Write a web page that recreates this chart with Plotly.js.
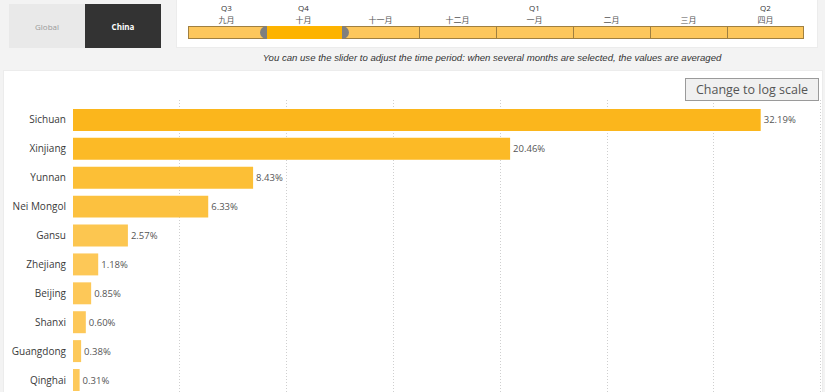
<!DOCTYPE html>
<html>
<head>
<meta charset="utf-8">
<script src="https://cdn.plot.ly/plotly-3.0.1.min.js"></script>
<style>
  html, body { margin:0; padding:0; width:825px; height:392px; overflow:hidden; background:#f3f3f3; font-family:"Open Sans","Noto Sans",sans-serif; }
  .abs { position:absolute; box-sizing:border-box; }
  #global { left:9px; top:4px; width:76px; height:44px; background:#e9e9e9; color:#9a9a9a; font-size:8px; display:flex; align-items:center; justify-content:center; }
  #china { left:85px; top:4px; width:76px; height:44px; background:#333333; color:#ffffff; font-size:8px; font-weight:bold; display:flex; align-items:center; justify-content:center; }
  #sliderPanel { left:176px; top:-2px; width:642px; height:50px; background:#ffffff; border:1px solid #ececec; }
  #track { left:188px; top:26px; width:616px; height:13px; background:#fdc75c; border:1px solid #a08040; }
  .seg { top:26px; height:13px; border-left:1px solid #a08040; }
  .mlab { top:14px; width:77px; text-align:center; font-size:8px; color:#555; font-family:"Noto Sans CJK SC","Noto Sans",sans-serif; }
  .qlab { top:2px; width:77px; text-align:center; font-size:8px; color:#333; }
  #sel { top:26px; height:13px; background:#fdb300; }
  .handle { top:26px; width:7px; height:13px; background:#7f7f7f; }
  #caption { left:150px; top:52px; width:684px; text-align:center; font-size:9.6px; font-style:italic; color:#333; font-family:"Liberation Sans",Arial,sans-serif; }
  #panel { left:3px; top:70px; width:820px; height:330px; background:#ffffff; border:1px solid #ececec; }
  #chart { left:0px; top:70px; width:825px; height:322px; }
  #logbtn { left:685px; top:78px; width:134px; height:23px; background:#f0f0f0; border:1px solid #9a9a9a; color:#555; font-size:12.5px; display:flex; align-items:center; justify-content:center; font-family:"Open Sans",sans-serif; }
</style>
</head>
<body>
<div id="global" class="abs">Global</div>
<div id="china" class="abs">China</div>
<div id="sliderPanel" class="abs"></div>
<div id="track" class="abs"></div>
<div id="caption" class="abs">You can use the slider to adjust the time period: when several months are selected, the values are averaged</div>
<div id="panel" class="abs"></div>
<div id="chart" class="abs"></div>
<div id="logbtn" class="abs">Change to log scale</div>
<script>
// ---- data ----
const provinces = ["Sichuan","Xinjiang","Yunnan","Nei Mongol","Gansu","Zhejiang","Beijing","Shanxi","Guangdong","Qinghai"];
const shares = [32.19, 20.46, 8.43, 6.33, 2.57, 1.18, 0.85, 0.60, 0.38, 0.31];
const months = ["九月","十月","十一月","十二月","一月","二月","三月","四月"];
const quarterLabels = ["Q3","Q4","","","Q1","","","Q2"];
const selectedMonth = 1;

// ---- slider (decorative controls) ----
const trackLeft = 188, segW = 77;
months.forEach((m, i) => {
  const x = trackLeft + i * segW;
  if (i > 0) {
    const s = document.createElement('div');
    s.className = 'abs seg'; s.style.left = x + 'px';
    document.body.appendChild(s);
  }
  const ml = document.createElement('div');
  ml.className = 'abs mlab'; ml.style.left = x + 'px'; ml.textContent = m;
  document.body.appendChild(ml);
  if (quarterLabels[i]) {
    const q = document.createElement('div');
    q.className = 'abs qlab'; q.style.left = x + 'px'; q.textContent = quarterLabels[i];
    document.body.appendChild(q);
  }
});
const selX = trackLeft + selectedMonth * segW;
const sel = document.createElement('div');
sel.className = 'abs'; sel.id = 'sel';
sel.style.left = (selX + 1) + 'px'; sel.style.width = (segW - 1) + 'px';
document.body.appendChild(sel);
[[selX - 5, '7px 0 0 7px'], [selX + segW, '0 7px 7px 0']].forEach(([x, r]) => {
  const h = document.createElement('div');
  h.className = 'abs handle'; h.style.left = x + 'px'; h.style.borderRadius = r;
  document.body.appendChild(h);
});

// ---- chart ----
const trace = {
  type: 'bar',
  orientation: 'h',
  y: provinces,
  x: shares,
  width: 0.76,
  marker: {
    color: shares,
    colorscale: [[0, '#fdc95c'], [0.1, '#fcc54d'], [0.3, '#fcbd30'], [1, '#fbb61c']],
    cmin: 0, cmax: 32.19,
    line: { width: 0 }
  },
  text: shares.map(v => v.toFixed(2) + '%'),
  textposition: 'outside',
  cliponaxis: false,
  textfont: { family: 'Open Sans, sans-serif', size: 9.5, color: '#555555' },
  hoverinfo: 'none'
};

const layout = {
  width: 825, height: 322,
  margin: { l: 73, r: 0, t: 30, b: 0 },
  paper_bgcolor: 'rgba(0,0,0,0)',
  plot_bgcolor: 'rgba(0,0,0,0)',
  showlegend: false,
  font: { family: 'Open Sans, sans-serif' },
  xaxis: {
    range: [0, 35.2],
    dtick: 5,
    showticklabels: false,
    showgrid: true,
    gridcolor: '#cfcfcf',
    griddash: '1px,2px',
    gridwidth: 1,
    zeroline: false,
    showline: false,
    fixedrange: true
  },
  yaxis: {
    type: 'category',
    range: [9.415, -0.69],
    showgrid: false,
    zeroline: false,
    showline: false,
    ticks: '',
    ticklabelstandoff: 6,
    tickfont: { family: 'Open Sans, sans-serif', size: 10, color: '#3a3a3a' },
    fixedrange: true
  }
};

Plotly.newPlot('chart', [trace], layout, { displayModeBar: false, staticPlot: true });
</script>
</body>
</html>
